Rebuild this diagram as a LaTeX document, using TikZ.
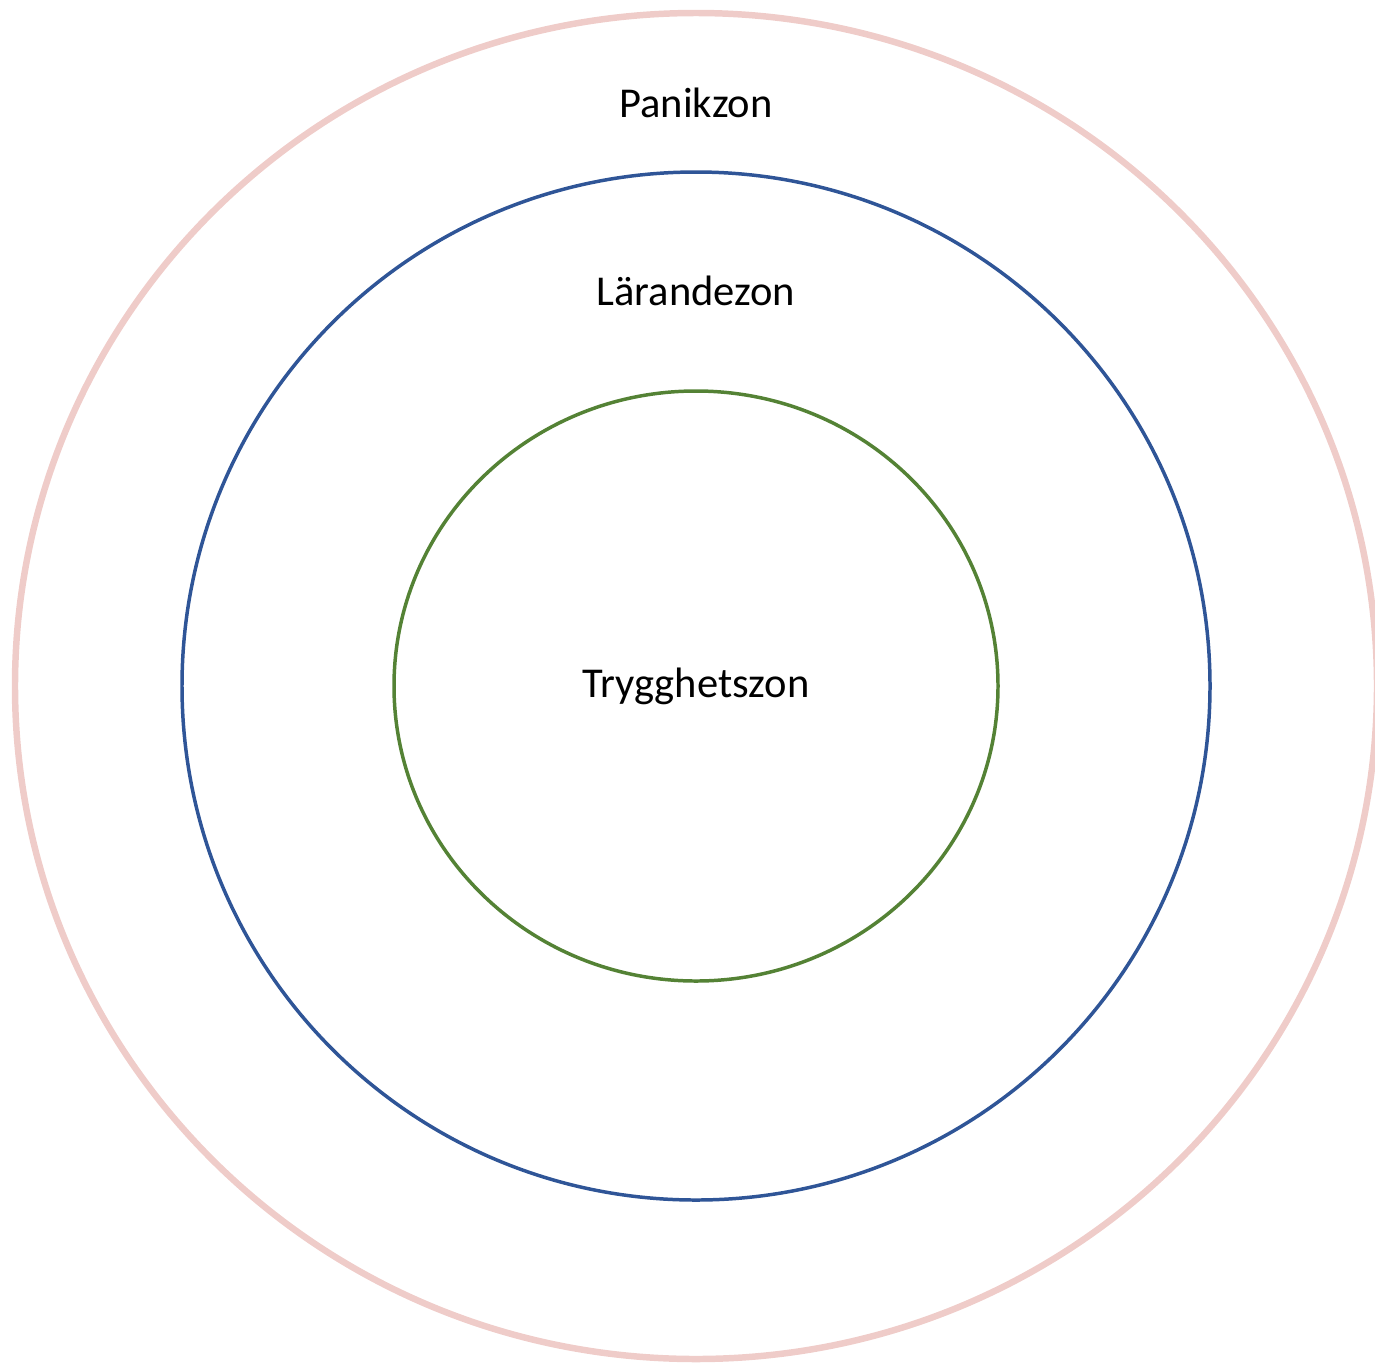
\documentclass[tikz,border=0pt]{standalone}
\usepackage{fontspec}
\setmainfont{Carlito}
\usepackage{tikz,xcolor}
\definecolor{panikpink}{HTML}{EFCCC9}
\definecolor{lararblue}{HTML}{2F5597}
\definecolor{tryggreen}{HTML}{548235}

\begin{document}
\begin{tikzpicture}[x=0.02cm, y=-0.02cm, every node/.style={font=\fontsize{24.2}{29}\selectfont, inner sep=0pt}]
				\useasboundingbox (0,0) rectangle (1375,1363);
				\coordinate (mid) at (696,686);
				
				\draw [panikpink, line width=6.5*0.567pt] (mid) ellipse [x radius=681, y radius=673];
				\draw [lararblue, line width=3.5*0.567pt] (mid) ellipse [x radius=514, y radius=514];
				\draw [tryggreen, line width=3.5*0.567pt] (mid) ellipse [x radius=302, y radius=295];
				
				\node (panik) at (696,103) {Panikzon};
				\node (larande) at (696,291) {Lärandezon};
				\node (trygg) at (mid) {Trygghetszon};
			\end{tikzpicture}
\end{document}
